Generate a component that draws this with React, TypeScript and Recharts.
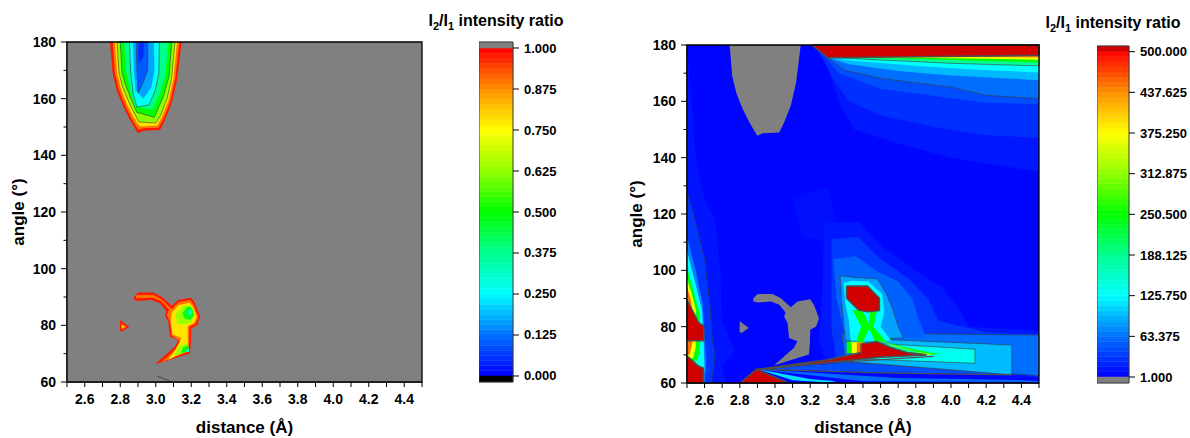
import React from 'react';
import { ScatterChart, Scatter, XAxis, YAxis } from 'recharts';

type Pt = [number, number];
type Layer = { v: number; pts: Pt[] };

const FONT = 'Arial, "Liberation Sans", sans-serif';

// axes
const xTicks = [2.5, 2.6, 2.7, 2.8, 2.9, 3.0, 3.1, 3.2, 3.3, 3.4, 3.5, 3.6, 3.7, 3.8, 3.9, 4.0, 4.1, 4.2, 4.3, 4.4, 4.5];
const xTickLabels = ['2.6', '2.8', '3.0', '3.2', '3.4', '3.6', '3.8', '4.0', '4.2', '4.4'];
const yTicks = [60, 70, 80, 90, 100, 110, 120, 130, 140, 150, 160, 170, 180];
const yTickLabels = [60, 80, 100, 120, 140, 160, 180];
const leftBarTicks = [0, 0.125, 0.25, 0.375, 0.5, 0.625, 0.75, 0.875, 1];
const rightBarTicks = [1, 63.375, 125.75, 188.125, 250.5, 312.875, 375.25, 437.625, 500];

const frame: Pt[] = [[2.5, 60], [2.5, 180], [4.5, 180], [4.5, 60]];

// ratio = 1 contours (shared by both maps)
const topContourOne: Pt[] = [[2.742, 180], [2.757, 169], [2.78, 163], [2.817, 157.2], [2.855, 152.5], [2.883, 149.5], [2.9, 147.8], [2.93, 148.7], [3.024, 148.9], [3.052, 152.5], [3.09, 158.5], [3.12, 166.7], [3.146, 180]];
const lowContourOne: Pt[] = [[2.877, 90.1], [2.902, 91.6], [2.986, 91.6], [3.033, 90.1], [3.09, 86.9], [3.127, 88.9], [3.2, 89.7], [3.221, 87.8], [3.25, 83], [3.234, 80.1], [3.2, 78.9], [3.199, 74.8], [3.193, 70.1], [2.996, 66.3], [3.108, 72.5], [3.127, 74.8], [3.08, 76], [3.071, 81.3], [3.052, 83.6], [3.06, 85], [3.024, 87.8], [2.977, 88.9], [2.902, 88.6], [2.877, 88.9]];
const smallContourOne: Pt[] = [[2.799, 81.9], [2.851, 79.5], [2.808, 77.7], [2.799, 78.3]];

// left map (I2/I1 0..1)
const leftTopB: Pt[] = [[2.757, 180], [2.77, 169], [2.793, 163], [2.828, 157.5], [2.863, 153], [2.889, 150.3], [2.905, 148.9], [2.93, 149.6], [3.016, 149.7], [3.045, 153], [3.082, 159], [3.11, 167], [3.133, 180]];
const leftTopC: Pt[] = [[2.77, 180], [2.782, 169], [2.804, 163.5], [2.838, 158], [2.872, 153.8], [2.898, 151], [2.915, 150.2], [3.008, 150.5], [3.036, 153.6], [3.073, 159.5], [3.1, 167.2], [3.12, 180]];
const leftTopD: Pt[] = [[2.782, 180], [2.793, 169], [2.814, 164], [2.85, 158.5], [2.882, 154.5], [2.905, 151.8], [3.0, 151.4], [3.028, 154.2], [3.064, 160], [3.09, 167.5], [3.108, 180]];
const leftTopE: Pt[] = [[2.8, 180], [2.81, 169], [2.832, 164.5], [2.864, 159.5], [2.893, 155.2], [2.992, 153.4], [3.044, 161], [3.075, 168], [3.09, 180]];
const leftTopF: Pt[] = [[2.822, 180], [2.832, 170], [2.855, 163], [2.882, 157.3], [2.98, 156], [3.025, 162], [3.055, 168.5], [3.072, 180]];
const leftTopG: Pt[] = [[2.852, 180], [2.858, 170], [2.872, 162], [2.893, 157], [2.962, 157.8], [2.998, 163], [3.018, 169], [3.02, 180]];
const leftTopH: Pt[] = [[2.872, 180], [2.877, 170], [2.886, 163], [2.93, 160], [2.975, 164], [2.993, 170], [2.99, 180]];
const leftTopI: Pt[] = [[2.89, 180], [2.894, 170], [2.9, 162], [2.925, 165], [2.955, 170], [2.955, 180]];
const leftTopJ: Pt[] = [[2.9, 180], [2.905, 172], [2.93, 175], [2.935, 180]];

const leftLowOrange: Pt[] = [[2.89, 90.6], [2.985, 90.8], [3.03, 89.3], [3.09, 85.8], [3.13, 88.2], [3.195, 88.9], [3.213, 87.3], [3.24, 83], [3.225, 80.6], [3.19, 79.5], [3.188, 74.6], [3.185, 70.8], [3.03, 67], [3.11, 71.5], [3.135, 74.6], [3.09, 76.3], [3.08, 81.2], [3.063, 83.7], [3.075, 85.5], [3.03, 88.6], [2.98, 89.7], [2.89, 89.5]];
const leftLowYellow: Pt[] = [[3.09, 84.5], [3.13, 87.2], [3.19, 88], [3.21, 86.5], [3.23, 83], [3.215, 80.8], [3.18, 79.8], [3.18, 74], [3.175, 71.2], [3.07, 67.8], [3.12, 72.3], [3.145, 75.5], [3.095, 76.8], [3.085, 81.3]];
const leftLowLime: Pt[] = [[3.11, 83.8], [3.15, 86.8], [3.195, 87.2], [3.22, 83.5], [3.2, 81], [3.16, 80.2], [3.12, 80.5]];
const leftLowLime2: Pt[] = [[3.13, 72.6], [3.18, 73.8], [3.18, 70.8], [3.1, 69]];
const leftLowGreen: Pt[] = [[3.15, 84.3], [3.18, 86.6], [3.205, 86.3], [3.215, 83.6], [3.195, 82], [3.165, 82.2]];
const leftLowGreen2: Pt[] = [[3.155, 72.3], [3.185, 73], [3.185, 70.7], [3.14, 70.2]];
const leftLowCyan: Pt[] = [[3.18, 85], [3.2, 85.8], [3.205, 84], [3.19, 83.5]];
const leftLowCyan2: Pt[] = [[3.175, 71.5], [3.188, 71.8], [3.188, 70.6], [3.17, 70.6]];
const leftSmallOrange: Pt[] = [[2.804, 80.9], [2.836, 79.5], [2.808, 78.4]];
const leftSmallYellow: Pt[] = [[2.808, 80], [2.824, 79.5], [2.81, 79]];
const leftFaintLine: Pt[] = [[3.005, 62.2], [3.09, 60]];

const leftLayers: Layer[] = [
  { v: 1.5, pts: frame },
  { v: 0.98, pts: topContourOne },
  { v: 0.9, pts: leftTopB },
  { v: 0.78, pts: leftTopC },
  { v: 0.62, pts: leftTopD },
  { v: 0.5, pts: leftTopE },
  { v: 0.38, pts: leftTopF },
  { v: 0.26, pts: leftTopG },
  { v: 0.17, pts: leftTopH },
  { v: 0.1, pts: leftTopI },
  { v: 0.05, pts: leftTopJ },
  { v: 0.98, pts: lowContourOne },
  { v: 0.9, pts: leftLowOrange },
  { v: 0.78, pts: leftLowYellow },
  { v: 0.64, pts: leftLowLime },
  { v: 0.64, pts: leftLowLime2 },
  { v: 0.48, pts: leftLowGreen },
  { v: 0.48, pts: leftLowGreen2 },
  { v: 0.3, pts: leftLowCyan },
  { v: 0.3, pts: leftLowCyan2 },
  { v: 0.98, pts: smallContourOne },
  { v: 0.9, pts: leftSmallOrange },
  { v: 0.78, pts: leftSmallYellow },
];
const leftLined = [0.5, 0.26, 0.1, 0.62];

// right map (I2/I1 1..500)
const rightMid: Pt[] = [[3.1, 125], [3.3, 130], [3.35, 118], [3.3, 110], [3.15, 112]];
const edgeA: Pt[] = [[2.5, 180], [2.52, 165], [2.55, 140], [2.6, 125], [2.66, 118], [2.69, 100], [2.7, 82], [2.77, 71], [2.7, 66], [2.72, 60], [2.5, 60]];
const edgeB: Pt[] = [[2.5, 128], [2.545, 118], [2.6, 104], [2.63, 88], [2.645, 75], [2.66, 70], [2.64, 60], [2.5, 60]];
const edgeC: Pt[] = [[2.5, 112], [2.55, 100], [2.59, 88], [2.6, 76], [2.61, 68], [2.6, 60], [2.5, 60]];
const edgeCyan: Pt[] = [[2.5, 107], [2.545, 96], [2.585, 86], [2.595, 74], [2.6, 64], [2.5, 64]];
const edgeGreen: Pt[] = [[2.5, 101], [2.535, 93], [2.57, 85], [2.575, 73], [2.56, 68], [2.5, 67]];
const edgeYellow: Pt[] = [[2.5, 97], [2.525, 92], [2.55, 86], [2.55, 73], [2.535, 69], [2.5, 68]];
const edgeOrange: Pt[] = [[2.5, 94], [2.52, 90], [2.53, 86], [2.53, 74], [2.515, 70], [2.5, 70]];
const edgeRed1: Pt[] = [[2.5, 89.5], [2.565, 81.5], [2.595, 80.2], [2.595, 75], [2.5, 75]];
const edgeRed2: Pt[] = [[2.5, 69.6], [2.565, 66], [2.593, 65.2], [2.593, 60], [2.5, 60]];

const topB1: Pt[] = [[3.22, 180], [3.3, 172], [3.36, 160], [3.45, 150], [3.7, 145], [4.0, 140], [4.3, 137], [4.5, 135], [4.5, 180]];
const topB2: Pt[] = [[3.25, 178], [3.33, 168], [3.42, 160], [3.6, 155], [3.9, 151], [4.2, 148], [4.5, 147], [4.5, 180]];
const topB3: Pt[] = [[3.27, 177], [3.36, 170], [3.6, 164.5], [3.9, 162], [4.2, 159.5], [4.5, 159], [4.5, 180]];
const topB4: Pt[] = [[3.294, 175.7], [3.398, 171], [3.615, 168], [3.994, 165.1], [4.203, 162.1], [4.5, 161], [4.5, 180]];
const topB5: Pt[] = [[3.3, 175.6], [3.42, 173.2], [3.7, 170.8], [4.0, 169.2], [4.5, 167.5], [4.5, 180]];
const topCyan: Pt[] = [[3.305, 175.6], [3.45, 174.3], [3.8, 172.6], [4.1, 171.4], [4.5, 170.2], [4.5, 180]];
const topSpring: Pt[] = [[3.31, 175.6], [3.6, 174.7], [4.0, 173.5], [4.5, 172.6], [4.5, 180]];
const topGreen: Pt[] = [[3.315, 175.6], [3.7, 175.2], [4.1, 174.5], [4.5, 173.9], [4.5, 180]];
const topYellow: Pt[] = [[3.32, 175.6], [3.8, 175.5], [4.2, 175.1], [4.5, 174.8], [4.5, 180]];
const topOrange: Pt[] = [[3.325, 175.6], [4.0, 175.8], [4.5, 175.6], [4.5, 180]];
const topRed: Pt[] = [[3.21, 180], [3.3, 175.5], [4.5, 176.3], [4.5, 180]];

const glow1: Pt[] = [[3.28, 117], [3.48, 117], [3.62, 108], [3.8, 100], [3.95, 94], [4.05, 86], [4.1, 80], [4.5, 78.5], [4.5, 62], [3.3, 66], [3.25, 75], [3.27, 95]];
const glow2: Pt[] = [[3.32, 111], [3.47, 112], [3.6, 104], [3.76, 97], [3.87, 90], [3.93, 82], [4.2, 78], [4.5, 77.2], [4.5, 62.5], [3.35, 67], [3.32, 80]];
const fan: Pt[] = [[2.905, 64.9], [3.4, 67.2], [4.345, 68], [4.345, 63], [3.6, 63.8]];
const band1: Pt[] = [[3.38, 77.5], [3.8, 77.5], [4.5, 77], [4.5, 62.6], [3.4, 67.5]];
const glow3: Pt[] = [[3.33, 104], [3.46, 105], [3.57, 100], [3.7, 96], [3.78, 90], [3.82, 82], [3.86, 76], [3.4, 76], [3.35, 90]];
const band2: Pt[] = [[3.4, 76], [4.345, 73.5], [4.345, 62.9], [3.45, 67.5]];
const glow4: Pt[] = [[3.37, 98], [3.45, 97.5], [3.58, 97], [3.63, 92], [3.67, 86], [3.7, 80], [3.73, 76], [3.4, 75], [3.38, 88]];
const band3: Pt[] = [[3.41, 74.7], [4.136, 72], [4.136, 67], [3.5, 68.5]];
const glow5: Pt[] = [[3.39, 95.5], [3.44, 96.3], [3.53, 96], [3.61, 91.5], [3.62, 85], [3.6, 80], [3.66, 75], [3.43, 75], [3.42, 82], [3.4, 88]];
const band4: Pt[] = [[3.55, 74.5], [3.75, 72.5], [3.95, 70.3], [3.6, 70]];
const armA: Pt[] = [[3.44, 86], [3.5, 85.5], [3.54, 80], [3.5, 74.6], [3.46, 74.7], [3.49, 80]];
const armB: Pt[] = [[3.54, 85.4], [3.58, 85.7], [3.56, 80], [3.63, 74.8], [3.57, 74.6], [3.53, 80]];
const slopeGreen: Pt[] = [[3.57, 75.6], [3.66, 74], [3.78, 72], [3.93, 70.1], [3.862, 70], [3.6, 74.8]];
const slopeYellow: Pt[] = [[3.575, 75.2], [3.66, 73.5], [3.77, 71.5], [3.9, 70.05], [3.862, 70]];
const clusterGreen: Pt[] = [[3.407, 74.7], [3.515, 74.3], [3.515, 70.5], [3.407, 70.6]];
const clusterYellow: Pt[] = [[3.435, 74.6], [3.515, 74.3], [3.515, 70.5], [3.435, 70.6]];
const clusterOrange: Pt[] = [[3.465, 74.5], [3.515, 74.3], [3.515, 70.5], [3.465, 70.6]];
const streakA: Pt[] = [[2.905, 64.9], [3.2, 61.4], [3.35, 60.6], [3.3, 60.2], [3.1, 61]];
const streakB: Pt[] = [[2.905, 64.9], [3.7, 61.8], [4.4, 61], [4.5, 60.7], [4.5, 60.3], [3.5, 60.6]];
const bottomRed: Pt[] = [[2.801, 60], [2.896, 64.9], [3.076, 60]];
const wedgeRed: Pt[] = [[2.905, 64.9], [3.3, 68.2], [3.49, 70.8], [3.49, 73.8], [3.515, 74.1], [3.578, 74.7], [3.653, 72.7], [3.748, 70.8], [3.862, 70], [3.6, 69.2], [3.3, 67.3]];
const octagonRed: Pt[] = [[3.407, 94.4], [3.525, 94.4], [3.593, 90.1], [3.593, 85.7], [3.525, 85.3], [3.474, 85.9], [3.407, 90.1]];
const wedgeLineA: Pt[] = [[2.905, 64.9], [3.3, 67.1], [3.9, 69.45]];
const wedgeLineB: Pt[] = [[2.905, 64.9], [3.6, 63.6], [4.345, 62.9]];

const rightLayers: Layer[] = [
  { v: 4, pts: frame },
  { v: 10, pts: rightMid },
  { v: 12, pts: edgeA },
  { v: 30, pts: edgeB },
  { v: 70, pts: edgeC },
  { v: 130, pts: edgeCyan },
  { v: 245, pts: edgeGreen },
  { v: 370, pts: edgeYellow },
  { v: 450, pts: edgeOrange },
  { v: 520, pts: edgeRed1 },
  { v: 520, pts: edgeRed2 },
  { v: 14, pts: topB1 },
  { v: 28, pts: topB2 },
  { v: 45, pts: topB3 },
  { v: 62, pts: topB4 },
  { v: 95, pts: topB5 },
  { v: 128, pts: topCyan },
  { v: 185, pts: topSpring },
  { v: 250, pts: topGreen },
  { v: 372, pts: topYellow },
  { v: 440, pts: topOrange },
  { v: 520, pts: topRed },
  { v: 14, pts: glow1 },
  { v: 32, pts: glow2 },
  { v: 45, pts: fan },
  { v: 62, pts: band1 },
  { v: 55, pts: glow3 },
  { v: 96, pts: band2 },
  { v: 85, pts: glow4 },
  { v: 135, pts: band3 },
  { v: 125, pts: glow5 },
  { v: 190, pts: band4 },
  { v: 250, pts: armA },
  { v: 250, pts: armB },
  { v: 250, pts: slopeGreen },
  { v: 370, pts: slopeYellow },
  { v: 250, pts: clusterGreen },
  { v: 370, pts: clusterYellow },
  { v: 450, pts: clusterOrange },
  { v: 110, pts: streakA },
  { v: 60, pts: streakB },
  { v: 0.5, pts: topContourOne },
  { v: 0.5, pts: lowContourOne },
  { v: 0.5, pts: smallContourOne },
  { v: 520, pts: bottomRed },
  { v: 520, pts: wedgeRed },
  { v: 520, pts: octagonRed },
];
const rightLined = [30, 62, 96, 85, 135, 185];

// jet-like palette of the colour scale
const jetStops = ['#0000ff', '#0070ff', '#00ffff', '#00ff90', '#00ff00', '#90ff00', '#ffff00', '#ff9000', '#ff0000'];
function hexRgb(h: string) {
  return [1, 3, 5].map((i) => parseInt(h.slice(i, i + 2), 16));
}
function jet(t: number) {
  const c = Math.max(0, Math.min(1, t)) * (jetStops.length - 1);
  const i = Math.min(Math.floor(c), jetStops.length - 2);
  const f = c - i;
  const a = hexRgb(jetStops[i]);
  const b = hexRgb(jetStops[i + 1]);
  const m = a.map((v, k) => Math.round(v + (b[k] - v) * f));
  return `rgb(${m[0]},${m[1]},${m[2]})`;
}
const leftColor = (v: number) => (v > 1 ? '#808080' : v < 0 ? '#000000' : jet(v));
const rightColor = (v: number) => (v < 1 ? '#808080' : v > 500 ? '#d00000' : jet((v - 1) / 499));

const tickFont = { fontFamily: FONT, fontWeight: 700, fontSize: 14, fill: '#000' };

function XTick(props: any) {
  const { x, y, payload } = props;
  const label = Number(payload.value).toFixed(1);
  return (
    <g>
      <line x1={x} x2={x} y1={y} y2={y + 5} stroke="#000" strokeWidth={1} />
      {xTickLabels.includes(label) && (
        <text x={x} y={y + 22} textAnchor="middle" {...tickFont}>
          {label}
        </text>
      )}
    </g>
  );
}

function YTick(props: any) {
  const { x, y, payload } = props;
  const major = yTickLabels.includes(payload.value);
  return (
    <g>
      <line x1={x - (major ? 6 : 3.5)} x2={x} y1={y} y2={y} stroke="#000" strokeWidth={1} />
      {major && (
        <text x={x - 11} y={y + 5} textAnchor="end" {...tickFont}>
          {payload.value}
        </text>
      )}
    </g>
  );
}

const noDot = () => <g />;
const closed = (pts: Pt[]) => [...pts, pts[0]].map(([x, y]) => ({ x, y }));
const open = (pts: Pt[]) => pts.map(([x, y]) => ({ x, y }));

function ContourPanel(props: {
  left: number;
  top: number;
  bottom: number;
  right: number;
  layers: Layer[];
  lines: Pt[][];
  color: (v: number) => string;
  lined: number[];
  hiCut: number;
}) {
  const { left, top, bottom, right, layers, lines, color, lined, hiCut } = props;
  return (
    <div style={{ position: 'absolute', left, top: 0 }}>
      <ScatterChart width={440} height={438} margin={{ top, right, bottom, left: 7 }}>
        <XAxis
          type="number"
          dataKey="x"
          domain={[2.5, 4.5]}
          ticks={xTicks}
          interval={0}
          height={30}
          tickSize={0}
          tickMargin={0}
          tickLine={false}
          tick={<XTick />}
          axisLine={{ stroke: '#000', strokeWidth: 1.2 }}
        />
        <YAxis
          type="number"
          dataKey="y"
          domain={[60, 180]}
          ticks={yTicks}
          interval={0}
          width={60}
          tickSize={0}
          tickMargin={0}
          tickLine={false}
          tick={<YTick />}
          axisLine={{ stroke: '#000', strokeWidth: 1.2 }}
        />
        {layers.map((l, i) => {
          const hot = l.v > hiCut;
          const ln = lined.includes(l.v);
          return (
            <Scatter
              key={`p${i}`}
              data={closed(l.pts)}
              shape={noDot}
              legendType="none"
              isAnimationActive={false}
              line={{
                fill: color(l.v),
                stroke: hot ? '#4d4d4d' : ln ? '#3c3c3c' : 'none',
                strokeWidth: hot ? 1.6 : ln ? 0.6 : 0,
              }}
            />
          );
        })}
        {lines.map((pts, i) => (
          <Scatter
            key={`l${i}`}
            data={open(pts)}
            shape={noDot}
            legendType="none"
            isAnimationActive={false}
            line={{ fill: 'none', stroke: '#505050', strokeWidth: 1.2 }}
          />
        ))}
        <Scatter
          data={closed(frame)}
          shape={noDot}
          legendType="none"
          isAnimationActive={false}
          line={{ fill: 'none', stroke: '#000', strokeWidth: 1.3 }}
        />
      </ScatterChart>
    </div>
  );
}

function BarTick(props: any) {
  const { x, y, payload } = props;
  return (
    <g>
      <line x1={x} x2={x + 6} y1={y} y2={y} stroke="#000" strokeWidth={1} />
      <text x={x + 11} y={y + 4.5} textAnchor="start" fontFamily={FONT} fontWeight={700} fontSize={13} fill="#000">
        {Number(payload.value).toFixed(3)}
      </text>
    </g>
  );
}

const rect = (y1: number, y2: number): Pt[] => [[0, y1], [1, y1], [1, y2], [0, y2]];

function ColorBar(props: {
  left: number;
  top: number;
  bottom: number;
  width: number;
  ticks: number[];
  dmin: number;
  dmax: number;
  below: string;
  above: string;
  color: (v: number) => string;
}) {
  const { left, top, bottom, width, ticks, dmin, dmax, below, above, color } = props;
  const lo = ticks[0];
  const hi = ticks[ticks.length - 1];
  const n = 64;
  const bands = Array.from({ length: n }, (_, k) => ({
    pts: rect(lo + ((hi - lo) * k) / n, lo + ((hi - lo) * (k + 1)) / n),
    fill: color(lo + ((hi - lo) * (k + 0.5)) / n),
  }));
  bands.push({ pts: rect(hi, dmax), fill: above });
  bands.push({ pts: rect(dmin, lo), fill: below });
  return (
    <div style={{ position: 'absolute', left, top: 0 }}>
      <ScatterChart width={width + 80} height={438} margin={{ top, right: 0, bottom, left: 0 }}>
        <XAxis type="number" dataKey="x" domain={[0, 1]} hide />
        <YAxis
          type="number"
          dataKey="y"
          orientation="right"
          domain={[dmin, dmax]}
          ticks={ticks}
          interval={0}
          width={80}
          axisLine={false}
          tickLine={false}
          tickSize={0}
          tickMargin={0}
          tick={<BarTick />}
        />
        {bands.map((b, i) => (
          <Scatter
            key={i}
            data={closed(b.pts)}
            shape={noDot}
            legendType="none"
            isAnimationActive={false}
            line={{ fill: b.fill, stroke: b.fill, strokeWidth: 0.5 }}
          />
        ))}
        <Scatter
          data={closed(rect(dmin, dmax))}
          shape={noDot}
          legendType="none"
          isAnimationActive={false}
          line={{ fill: 'none', stroke: '#3a3a3a', strokeWidth: 1 }}
        />
      </ScatterChart>
    </div>
  );
}

const titleStyle: React.CSSProperties = {
  position: 'absolute',
  transform: 'translateX(-50%)',
  fontFamily: FONT,
  fontWeight: 700,
  fontSize: 16,
  lineHeight: '18px',
  whiteSpace: 'nowrap',
  color: '#000',
};
const subStyle: React.CSSProperties = { fontSize: 11, position: 'relative', top: 4 };
const axisTitle: React.CSSProperties = {
  position: 'absolute',
  fontFamily: FONT,
  fontWeight: 700,
  fontSize: 17,
  lineHeight: '20px',
  whiteSpace: 'nowrap',
  color: '#000',
};

function Title({ x, y }: { x: number; y: number }) {
  return (
    <div style={{ ...titleStyle, left: x, top: y }}>
      I<span style={subStyle}>2</span>/I<span style={subStyle}>1</span> intensity ratio
    </div>
  );
}

export default function App() {
  return (
    <div style={{ position: 'absolute', left: 0, top: 0, width: 1190, height: 438, overflow: 'hidden', background: '#fff' }}>
      <ContourPanel left={0} top={42} bottom={26} right={18} layers={leftLayers} lines={[leftFaintLine]} color={leftColor} lined={leftLined} hiCut={1000} />
      <ContourPanel left={620} top={45} bottom={25} right={21} layers={rightLayers} lines={[wedgeLineA, wedgeLineB]} color={rightColor} lined={rightLined} hiCut={500} />

      <ColorBar left={479} top={42} bottom={56} width={34} ticks={leftBarTicks} dmin={-0.0183} dmax={1.0183} below="#000000" above="#808080" color={leftColor} />
      <ColorBar left={1097} top={46} bottom={55} width={32} ticks={rightBarTicks} dmin={-8.2} dmax={508.7} below="#808080" above="#d00000" color={rightColor} />

      <Title x={496} y={12} />
      <Title x={1113} y={14} />

      <div style={{ ...axisTitle, left: 244.5, top: 418, transform: 'translateX(-50%)' }}>distance (Å)</div>
      <div style={{ ...axisTitle, left: 863, top: 418, transform: 'translateX(-50%)' }}>distance (Å)</div>
      <div style={{ ...axisTitle, left: 19, top: 212, transform: 'translate(-50%, -50%) rotate(-90deg)' }}>angle (°)</div>
      <div style={{ ...axisTitle, left: 637, top: 214, transform: 'translate(-50%, -50%) rotate(-90deg)' }}>angle (°)</div>
    </div>
  );
}
